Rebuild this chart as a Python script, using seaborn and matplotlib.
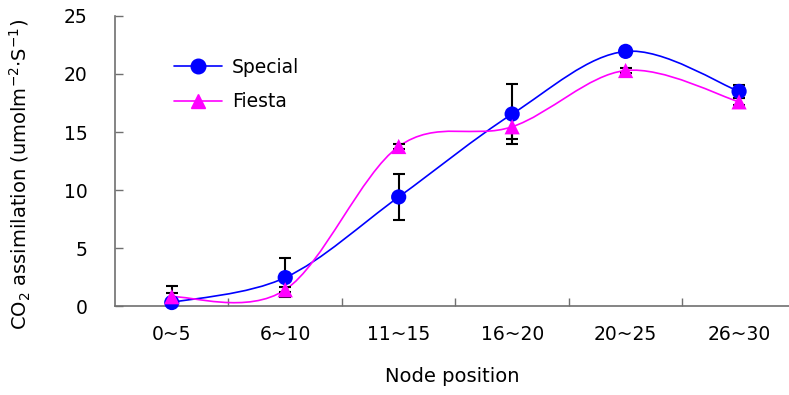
import numpy as np
import pandas as pd
import seaborn as sns
import matplotlib
matplotlib.use("Agg")
import matplotlib.pyplot as plt
from matplotlib.path import Path
from matplotlib.patches import PathPatch
from matplotlib.lines import Line2D

# Node position groups
categories = ["0~5", "6~10", "11~15", "16~20", "20~25", "26~30"]

# CO2 assimilation means and error (±) per cultivar
special = [0.3, 2.45, 9.4, 16.55, 21.95, 18.5]
special_err = [1.45, 1.7, 1.95, 2.55, 0.2, 0.55]
fiesta = [0.8, 1.4, 13.75, 15.45, 20.3, 17.6]
fiesta_err = [0.3, 0.2, 0.2, 1.05, 0.2, 0.3]

series_names = ["Special", "Fiesta"]
series_colors = ["#0000FF", "#FF00FF"]
series_markers = ["o", "^"]

sns.set_style("white")
plt.rcParams["font.family"] = ["DejaVu Sans"]
plt.rcParams["text.color"] = "black"
plt.rcParams["axes.labelcolor"] = "black"
plt.rcParams["xtick.color"] = "black"
plt.rcParams["ytick.color"] = "black"

fig = plt.figure(figsize=(7.89, 3.95), dpi=100)
ax = fig.add_axes([0.1458, 0.2253, 0.8542, 0.7342])

df = pd.DataFrame({
    "pos": list(range(len(categories))) * 2,
    "value": special + fiesta,
    "err": special_err + fiesta_err,
    "cultivar": ["Special"] * len(categories) + ["Fiesta"] * len(categories),
})


def smooth_path(xs, ys):
    """Cubic Bezier path through the points (spreadsheet-style smoothed line)."""
    pts = np.column_stack([xs, ys]).astype(float)
    n = len(pts)
    verts = [pts[0]]
    codes = [Path.MOVETO]
    for i in range(n - 1):
        p0 = pts[max(i - 1, 0)]
        p1 = pts[i]
        p2 = pts[i + 1]
        p3 = pts[min(i + 2, n - 1)]
        c1 = p1 + (p2 - p0) / 6.0
        c2 = p2 - (p3 - p1) / 6.0
        verts += [c1, c2, p2]
        codes += [Path.CURVE4] * 3
    return Path(verts, codes)


handles = []
for name, color, marker in zip(series_names, series_colors, series_markers):
    sub = df[df["cultivar"] == name]
    # smoothed connecting line
    patch = PathPatch(smooth_path(sub["pos"].values, sub["value"].values),
                      facecolor="none", edgecolor=color, lw=1.2, zorder=2)
    ax.add_patch(patch)
    # error bars
    ax.errorbar(sub["pos"], sub["value"], yerr=sub["err"], fmt="none",
                ecolor="black", elinewidth=1.5, capsize=4.5, capthick=1.5,
                zorder=3)
    handles.append(Line2D([0], [0], color=color, lw=1.2, marker=marker,
                          markersize=10.5, markeredgecolor=color,
                          markerfacecolor=color))

sns.scatterplot(data=df, x="pos", y="value", hue="cultivar", style="cultivar",
                hue_order=series_names, style_order=series_names,
                palette=series_colors, markers=series_markers, s=120,
                edgecolor="none", legend=False, zorder=4, clip_on=False, ax=ax)

ax.set_xlim(-0.5, 5.44)
ax.set_ylim(0, 25)
ax.set_yticks([0, 5, 10, 15, 20, 25])
ax.set_xticks(range(len(categories)))
ax.set_xticklabels(categories)
ax.set_xticks(np.arange(0.5, 5.5, 1.0), minor=True)

axis_gray = "#707070"
for side in ["top", "right"]:
    ax.spines[side].set_visible(False)
for side in ["left", "bottom"]:
    ax.spines[side].set_color(axis_gray)
    ax.spines[side].set_linewidth(1.2)

ax.tick_params(axis="y", which="major", direction="in", length=6, width=1.0,
               color=axis_gray, labelcolor="black", labelsize=13.5, pad=20,
               left=True)
ax.tick_params(axis="x", which="major", length=0, labelsize=13.5, pad=14,
               labelcolor="black", bottom=True)
ax.tick_params(axis="x", which="minor", direction="in", length=6, width=1.0,
               color=axis_gray, bottom=True)

ax.set_xlabel("Node position", fontsize=14, labelpad=16)
ax.set_ylabel(r"CO$_2$ assimilation (umolm$^{-2}$$\cdot$S$^{-1}$)",
              fontsize=14)
ax.yaxis.set_label_coords(-0.121, 0.455)

ax.legend(handles, series_names, loc="upper left",
          bbox_to_anchor=(0.062, 0.915), frameon=False, fontsize=13.5,
          handlelength=2.6, handletextpad=0.5, labelspacing=0.85)

fig.savefig("out.png", dpi=100)
